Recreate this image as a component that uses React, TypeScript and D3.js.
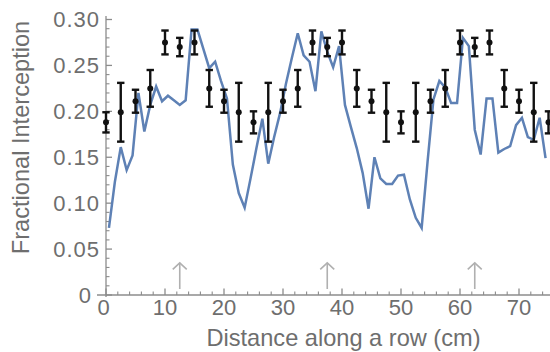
import React from "react";
import * as d3 from "d3";

const lineX = [0.5,1.5,2.5,3.5,4.5,5.5,6.5,7.5,8.5,9.5,10.5,11.5,12.5,13.5,14.5,15.5,16.5,17.5,18.5,19.5,20.5,21.5,22.5,23.5,24.5,25.5,26.5,27.5,28.5,29.5,30.5,31.5,32.5,33.5,34.5,35.5,36.5,37.5,38.5,39.5,40.5,41.5,42.5,43.5,44.5,45.5,46.5,47.5,48.5,49.5,50.5,51.5,52.5,53.5,54.5,55.5,56.5,57.5,58.5,59.5,60.5,61.5,62.5,63.5,64.5,65.5,66.5,67.5,68.5,69.5,70.5,71.5,72.5,73.5,74.5];
const lineY = [0.073,0.123,0.161,0.136,0.152,0.220,0.178,0.207,0.227,0.211,0.217,0.212,0.207,0.212,0.289,0.289,0.268,0.247,0.254,0.233,0.214,0.142,0.111,0.095,0.127,0.160,0.192,0.143,0.172,0.198,0.230,0.258,0.285,0.261,0.254,0.222,0.287,0.265,0.248,0.271,0.207,0.183,0.160,0.133,0.094,0.150,0.127,0.121,0.121,0.130,0.131,0.104,0.084,0.073,0.145,0.213,0.233,0.226,0.209,0.209,0.280,0.271,0.180,0.153,0.214,0.214,0.155,0.159,0.162,0.185,0.193,0.172,0.169,0.193,0.149];

const pointX = [0,2.5,5,7.5,10,12.5,15,17.5,20,22.5,25,27.5,30,32.5,35,37.5,40,42.5,45,47.5,50,52.5,55,57.5,60,62.5,65,67.5,70,72.5,75];
const pointY = [0.188,0.199,0.211,0.225,0.275,0.270,0.275,0.225,0.211,0.199,0.188,0.199,0.211,0.225,0.275,0.270,0.275,0.225,0.211,0.199,0.188,0.199,0.211,0.225,0.275,0.270,0.275,0.225,0.211,0.199,0.188];
const pointErr = [0.011,0.032,0.0125,0.02,0.013,0.01,0.013,0.02,0.0125,0.032,0.012,0.032,0.0125,0.02,0.013,0.01,0.013,0.02,0.0125,0.032,0.012,0.032,0.0125,0.02,0.013,0.01,0.013,0.02,0.0125,0.032,0.012];

const arrowX = [12.5, 37.5, 62.5];
const xTicks = [0, 10, 20, 30, 40, 50, 60, 70];
const xTickLabels = ["0", "10", "20", "30", "40", "50", "60", "70"];
const yTicks = [0, 0.05, 0.1, 0.15, 0.2, 0.25, 0.3];
const yTickLabels = ["0", "0.05", "0.10", "0.15", "0.20", "0.25", "0.30"];

const W = 550, H = 352;
const x = d3.scaleLinear().domain([0, 75]).range([106, 548.5]);
const y = d3.scaleLinear().domain([0, 0.3]).range([295, 19.5]);

const AX = "#8c8c8c";
const TXT = "#6e6e6e";
const FONT = "'Liberation Sans', Arial, sans-serif";

export default function App() {
  const line = d3.line<number>().x((_, i) => x(lineX[i])).y((d) => y(d));
  const xMinor = d3.range(0, 76, 2).filter((v) => v % 10 !== 0);
  const yMinor = d3.range(0, 31).map((v) => v / 100).filter((_, i) => i % 5 !== 0);
  const x0 = x(0), y0 = y(0);
  return (
    <svg width={W} height={H} style={{ position: "absolute", left: 0, top: 0 }} fontFamily={FONT}>
      {/* axes */}
      <line x1={97} x2={550} y1={y0} y2={y0} stroke={AX} strokeWidth={1.3} />
      <line x1={x0} x2={x0} y1={16} y2={297} stroke={AX} strokeWidth={1.3} />
      {xTicks.map((t) => (
        <line key={"xt" + t} x1={x(t)} x2={x(t)} y1={y0} y2={y0 - 6.5} stroke={AX} strokeWidth={1.3} />
      ))}
      {xMinor.map((t) => (
        <line key={"xm" + t} x1={x(t)} x2={x(t)} y1={y0} y2={y0 - 3.5} stroke={AX} strokeWidth={1.1} />
      ))}
      {yTicks.map((t) => (
        <line key={"yt" + t} x1={x0} x2={x0 + 6} y1={y(t)} y2={y(t)} stroke={AX} strokeWidth={1.3} />
      ))}
      {yMinor.map((t, i) => (
        <line key={"ym" + i} x1={x0} x2={x0 + 3.5} y1={y(t)} y2={y(t)} stroke={AX} strokeWidth={1.1} />
      ))}
      {xTicks.map((t, i) => (
        <text key={"xl" + t} x={t === 0 ? x(t) - 2.5 : x(t)} y={315} textAnchor="middle" fontSize={22} fill={TXT}>
          {xTickLabels[i]}
        </text>
      ))}
      {yTicks.map((t, i) => (
        <text key={"yl" + t} x={t === 0 ? 92 : 100} y={y(t)} dy="0.36em" textAnchor="end" fontSize={22} letterSpacing={1} fill={TXT}>
          {yTickLabels[i]}
        </text>
      ))}
      <text x={343.5} y={346} textAnchor="middle" fontSize={23.6} fill={TXT}>
        Distance along a row (cm)
      </text>
      <text transform={`translate(28.5,137.5) rotate(-90)`} textAnchor="middle" fontSize={23.6} fill={TXT}>
        Fractional Interception
      </text>
      {/* arrows */}
      {arrowX.map((a) => {
        const ax = x(a);
        const tip = y(0.035), base = y(0.0065);
        return (
          <g key={"ar" + a} stroke="#b0b0b0" strokeWidth={1.6} fill="none">
            <line x1={ax} x2={ax} y1={base} y2={tip} />
            <polyline points={`${ax - 7},${tip + 6.5} ${ax},${tip} ${ax + 7},${tip + 6.5}`} />
          </g>
        );
      })}
      {/* blue line */}
      <path d={line(lineY) || ""} fill="none" stroke="#5e81b5" strokeWidth={2.5} strokeLinejoin="miter" />
      {/* error bars */}
      {pointX.map((px, i) => {
        const cx = x(px);
        const top = y(pointY[i] + pointErr[i]);
        const bot = y(pointY[i] - pointErr[i]);
        return (
          <g key={"eb" + i} stroke="#111" strokeWidth={2.4}>
            <line x1={cx} x2={cx} y1={top} y2={bot} />
            <line x1={cx - 3.7} x2={cx + 3.7} y1={top} y2={top} />
            <line x1={cx - 3.7} x2={cx + 3.7} y1={bot} y2={bot} />
            <circle cx={cx} cy={y(pointY[i])} r={3} fill="#111" stroke="none" />
          </g>
        );
      })}
    </svg>
  );
}
